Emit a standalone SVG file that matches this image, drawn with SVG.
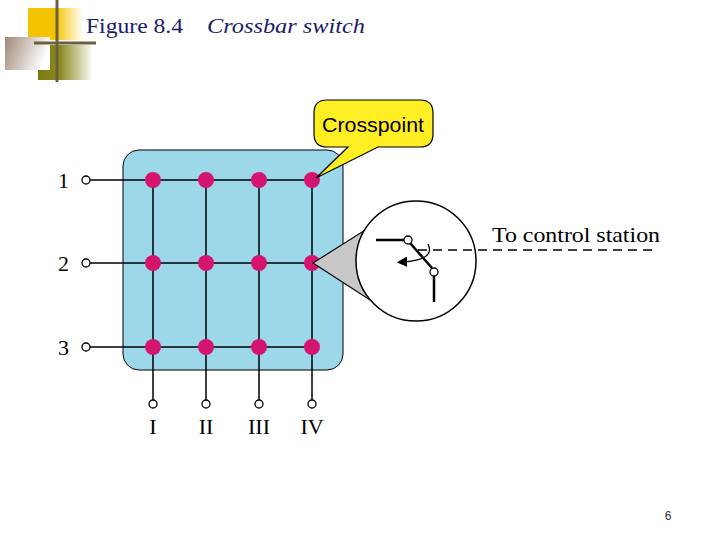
<svg xmlns="http://www.w3.org/2000/svg" width="720" height="540" viewBox="0 0 720 540">
<defs>
<linearGradient id="gy" x1="0" x2="1"><stop offset="0" stop-color="#f5c400"/><stop offset="0.5" stop-color="#f5c400"/><stop offset="1" stop-color="#fff"/></linearGradient>
<linearGradient id="gb" x1="0" y1="0" x2="1" y2="0.3"><stop offset="0" stop-color="#a08878"/><stop offset="1" stop-color="#fff"/></linearGradient>
<linearGradient id="go" x1="0" x2="1"><stop offset="0" stop-color="#7a7a10"/><stop offset="0.4" stop-color="#8a8a20"/><stop offset="1" stop-color="#fff"/></linearGradient>
<marker id="ah" markerWidth="8" markerHeight="8" refX="4" refY="4" orient="auto"><path d="M0,0 L8,4 L0,8 z" fill="#000"/></marker>
</defs>
<style>
.ln{stroke:#000;stroke-width:1.5;fill:none}
.dot{fill:#d4146e}
.oc{fill:#fff;stroke:#000;stroke-width:1.3}
.lbl{font-family:"Liberation Serif",serif;font-size:22px;fill:#000}
</style>
<g id="deco">
<rect x="28" y="8" width="55" height="32" fill="url(#gy)"/>
<rect x="38" y="45" width="55" height="35" fill="url(#go)"/>
<rect x="5" y="37" width="45" height="33" fill="url(#gb)"/>
<line x1="57" y1="0" x2="57" y2="82" stroke="#6b6040" stroke-width="3"/>
<line x1="34" y1="43" x2="96" y2="43" stroke="#6b6040" stroke-width="3"/>
</g>
<text x="86" y="33" font-family="Liberation Serif,serif" font-size="21" fill="#1a1a6c" textLength="97" lengthAdjust="spacingAndGlyphs">Figure 8.4</text>
<text x="207" y="33" font-family="Liberation Serif,serif" font-size="21" font-style="italic" fill="#1a1a6c" textLength="158" lengthAdjust="spacingAndGlyphs">Crossbar switch</text>
<g id="box"><rect x="123" y="150" width="220" height="220" rx="16" fill="#9dd8ea" stroke="#000" stroke-width="1"/></g>
<g id="connectors">
<line class="ln" x1="90" y1="180" x2="312" y2="180"/>
<line class="ln" x1="90" y1="263" x2="312" y2="263"/>
<line class="ln" x1="90" y1="347" x2="312" y2="347"/>
<line class="ln" x1="153" y1="180" x2="153" y2="400"/>
<line class="ln" x1="206" y1="180" x2="206" y2="400"/>
<line class="ln" x1="259" y1="180" x2="259" y2="400" stroke-width="2.5"/>
<line class="ln" x1="312" y1="180" x2="312" y2="400"/>
<line x1="418" y1="250" x2="655" y2="250" stroke="#000" stroke-width="1.5" stroke-dasharray="9,6"/>
</g>
<g id="inputs">
<circle class="oc" cx="86" cy="180" r="4"/><circle class="oc" cx="86" cy="263" r="4"/><circle class="oc" cx="86" cy="347" r="4"/>
<text class="lbl" x="58" y="188">1</text><text class="lbl" x="58" y="271">2</text><text class="lbl" x="58" y="355">3</text>
</g>
<g id="outputs">
<circle class="oc" cx="153" cy="404" r="4"/><circle class="oc" cx="206" cy="404" r="4"/><circle class="oc" cx="259" cy="404" r="4"/><circle class="oc" cx="312" cy="404" r="4"/>
<text class="lbl" x="153" y="434" text-anchor="middle">I</text><text class="lbl" x="206" y="434" text-anchor="middle">II</text><text class="lbl" x="259" y="434" text-anchor="middle">III</text><text class="lbl" x="312" y="434" text-anchor="middle">IV</text>
</g>
<g id="crosspoints">
<circle class="dot" cx="153" cy="180" r="8"/><circle class="dot" cx="206" cy="180" r="8"/><circle class="dot" cx="259" cy="180" r="8"/><circle class="dot" cx="312" cy="180" r="8"/>
<circle class="dot" cx="153" cy="263" r="8"/><circle class="dot" cx="206" cy="263" r="8"/><circle class="dot" cx="259" cy="263" r="8"/><circle class="dot" cx="312" cy="263" r="8"/>
<circle class="dot" cx="153" cy="347" r="8"/><circle class="dot" cx="206" cy="347" r="8"/><circle class="dot" cx="259" cy="347" r="8"/><circle class="dot" cx="312" cy="347" r="8"/>
</g>
<g id="callout">
<path d="M327,100 H420 Q433,100 433,113 V134 Q433,147 420,147 H378 L316,178 L348,147 H327 Q314,147 314,134 V113 Q314,100 327,100 Z" fill="#ffee22" stroke="#000" stroke-width="1.2"/>
<text x="373" y="132" text-anchor="middle" font-family="Liberation Sans,sans-serif" font-size="20" textLength="102" lengthAdjust="spacingAndGlyphs">Crosspoint</text>
</g>
<g id="magnifier">
<path d="M313,263 L370,227 L370,300 Z" fill="#c8c8c8" stroke="#000" stroke-width="1.2"/>
<circle cx="416" cy="261" r="60" fill="#fff" stroke="#000" stroke-width="1.5"/>
<line x1="376" y1="240" x2="404" y2="240" stroke="#000" stroke-width="2.5"/>
<line x1="410" y1="243" x2="432" y2="268" stroke="#000" stroke-width="2.5"/>
<line x1="434" y1="276" x2="434" y2="302" stroke="#000" stroke-width="2.5"/>
<circle class="oc" cx="408" cy="240" r="4"/>
<circle class="oc" cx="434" cy="272" r="4"/>
<line x1="418" y1="250" x2="476" y2="250" stroke="#000" stroke-width="1.5" stroke-dasharray="9,6"/>
<path d="M428,244 Q436,260 402,262" fill="none" stroke="#000" stroke-width="1.3" marker-end="url(#ah)"/>
<text x="492" y="242" font-family="Liberation Serif,serif" font-size="21" textLength="168" lengthAdjust="spacingAndGlyphs">To control station</text>
</g>
<text x="668" y="520" text-anchor="middle" font-family="Liberation Sans,sans-serif" font-size="12" fill="#333">6</text>
</svg>
